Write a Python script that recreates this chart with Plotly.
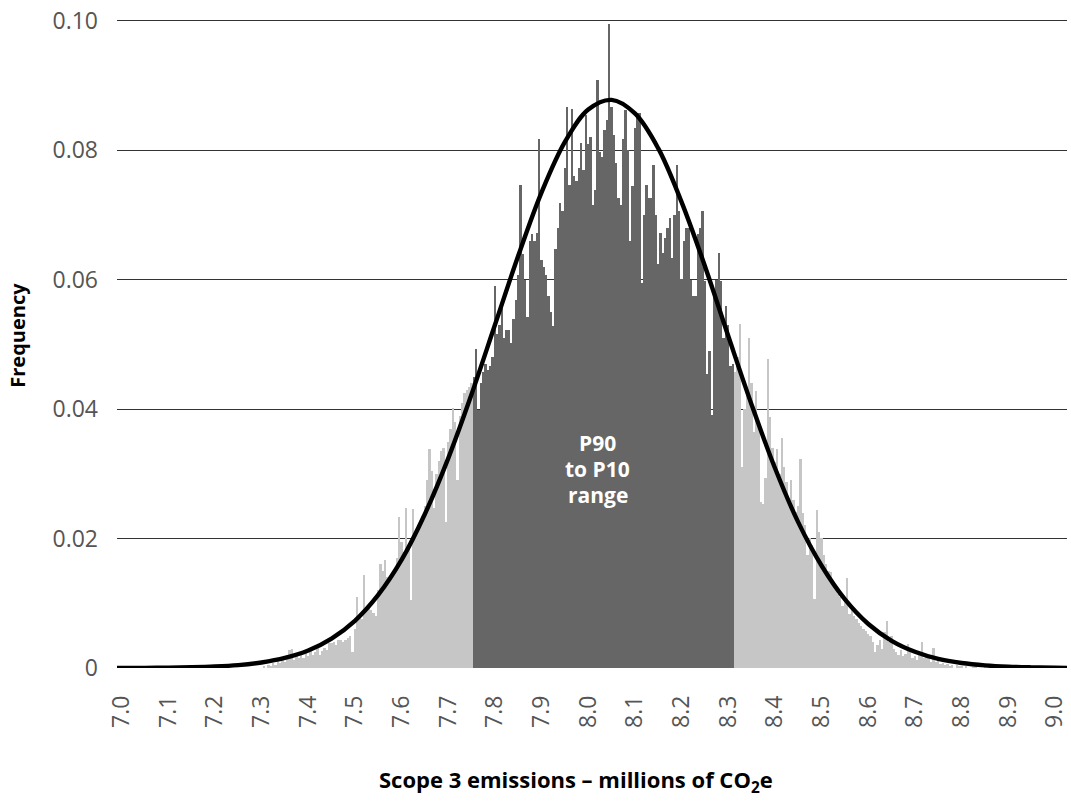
import plotly.graph_objects as go

# ---------------- data ----------------
bin_start = 7.300          # centre of first histogram bin
bin_width = 0.005          # bin width (millions of CO2e)
p90_value = 7.7525         # lower edge of P90-P10 range
p10_value = 8.3125         # upper edge of P90-P10 range

# frequency of each bin, in thousandths (x 0.001)
freq_milli = [
    # 7.300 - 7.445
    0, 0.3, 0, 0.5, 0.3, 0.8, 0.5, 1.2, 0.8, 1.5, 1.0, 2.0, 2.8, 3.0, 1.2,
    2.0, 1.5, 2.2, 1.6, 2.5, 1.8, 2.6, 2.0, 2.4, 3.3, 2.0, 2.6, 3.1, 2.8, 3.8,
    # 7.450 - 7.750
    3.8, 4.0, 3.5, 4.4, 4.4, 4.0, 4.4, 4.6, 5.0, 2.5,
    6.0, 11.0, 8.0, 7.5, 14.3, 9.5, 9.5, 9.0, 8.5, 8.0,
    12.0, 16.0, 15.0, 16.7, 14.0, 13.5, 14.0, 15.0, 17.0, 23.3,
    19.5, 18.0, 24.8, 19.0, 10.5, 24.6, 21.0, 21.5, 22.0, 23.5,
    25.0, 29.0, 33.9, 30.5, 24.8, 30.0, 32.0, 33.5, 34.0, 22.5,
    35.0, 37.0, 40.2, 38.0, 29.0, 39.0, 41.0, 42.5, 43.0, 43.5,
    44.0,
    # 7.755 - 8.310 (P90 to P10 range)
    45.0, 49.3, 39.8, 44.0, 45.7, 47.0, 46.0, 46.7, 48.0, 59.1,
    51.6, 53.0, 56.9, 51.0, 52.3, 52.3, 50.3, 54.0, 56.9, 60.8,
    74.6, 64.0, 60.0, 54.2, 66.0, 67.0, 66.0, 67.3, 81.8, 63.1,
    62.0, 60.8, 57.5, 55.0, 52.9, 64.7, 68.0, 71.9, 70.6, 77.2,
    86.7, 74.7, 86.4, 76.0, 75.2, 77.2, 81.1, 77.0, 85.5, 81.0,
    82.0, 71.6, 73.9, 90.9, 79.8, 79.0, 83.1, 84.7, 99.6, 86.7,
    82.4, 78.0, 72.6, 71.6, 81.8, 86.3, 80.0, 66.0, 74.5, 83.4,
    85.8, 85.7, 59.5, 70.0, 74.6, 72.6, 72.6, 77.8, 70.0, 62.4,
    67.3, 64.1, 66.4, 68.0, 69.6, 63.4, 70.0, 77.8, 70.6, 60.1,
    66.0, 68.0, 68.0, 60.0, 57.5, 57.5, 67.0, 68.0, 70.6, 59.8,
    45.4, 49.0, 39.1, 57.5, 60.0, 64.1, 59.8, 51.0, 55.9, 53.0,
    46.7, 47.0,
    # 8.315 - 8.800
    45.7, 48.0, 53.2, 31.0, 40.0, 42.4, 51.0, 44.0, 36.5, 42.8,
    38.0, 25.7, 25.4, 29.3, 47.7, 38.8, 34.0, 31.9, 33.9, 30.0,
    35.5, 31.0, 28.7, 26.0, 29.0, 26.0, 24.1, 25.0, 32.3, 24.0,
    22.1, 17.5, 20.1, 19.0, 10.6, 24.4, 21.0, 20.1, 17.5, 16.0,
    15.0, 14.9, 13.0, 12.3, 11.5, 11.0, 9.6, 10.5, 13.9, 8.3,
    9.0, 8.0, 7.5, 7.0, 6.5, 6.0, 5.7, 5.3, 5.0, 4.0,
    2.4, 3.5, 4.4, 3.0, 5.5, 7.3, 4.0, 5.0, 3.0, 2.4,
    2.0, 2.8, 1.8, 2.2, 3.7, 2.5, 1.5, 1.8, 1.2, 2.0,
    4.0, 1.5, 2.0, 1.8, 1.0, 3.1, 1.0, 1.1, 0.6, 0.8,
    0.4, 0.6, 0.3, 0.5, 0.0, 0.4, 0.2, 0.3,
    # 8.805 - 8.950
    0, 0.2, 0, 0, 0.1, 0.2, 0, 0, 0, 0.2, 0, 0, 0.1, 0, 0,
    0, 0.1, 0, 0, 0, 0, 0, 0.1, 0, 0, 0, 0, 0, 0, 0.3,
]

# fitted curve, read at 0.05 steps
curve_x = [6.98, 7.00, 7.05, 7.10, 7.15, 7.20, 7.25, 7.30, 7.35, 7.40, 7.45,
           7.50, 7.55, 7.60, 7.65, 7.70, 7.75, 7.80, 7.85, 7.90, 7.95,
           8.00, 8.05, 8.10, 8.15, 8.20, 8.25, 8.30, 8.35, 8.40, 8.45,
           8.50, 8.55, 8.60, 8.65, 8.70, 8.75, 8.80, 8.85, 8.90, 8.95, 9.00, 9.03]
curve_y = [0.00001, 0.00001, 0.00002, 0.00005, 0.00011, 0.00023, 0.00045, 0.00085, 0.00155, 0.0027, 0.00455,
           0.0073, 0.0113, 0.0167, 0.0238, 0.0324, 0.0423, 0.0530, 0.0637, 0.0735, 0.0813,
           0.0863, 0.0878, 0.0857, 0.0803, 0.0720, 0.0621, 0.0513, 0.0407, 0.0309, 0.0225,
           0.0158, 0.0106, 0.0068, 0.0042, 0.0025, 0.0014, 0.00077, 0.0004, 0.0002, 0.0001, 0.00004, 0.00002]

x_tick_vals = [7.0, 7.1, 7.2, 7.3, 7.4, 7.5, 7.6, 7.7, 7.8, 7.9, 8.0,
               8.1, 8.2, 8.3, 8.4, 8.5, 8.6, 8.7, 8.8, 8.9, 9.0]
x_tick_text = ["7.0", "7.1", "7.2", "7.3", "7.4", "7.5", "7.6", "7.7", "7.8", "7.9", "8.0",
               "8.1", "8.2", "8.3", "8.4", "8.5", "8.6", "8.7", "8.8", "8.9", "9.0"]
y_tick_vals = [0, 0.02, 0.04, 0.06, 0.08, 0.10]
y_tick_text = ["0", "0.02", "0.04", "0.06", "0.08", "0.10"]

label_lines = ["P90", "to P10", "range"]
label_x = 8.02
label_y = [0.0347, 0.0307, 0.0267]

# ---------------- figure ----------------
bin_centres = [round(bin_start + i * bin_width, 4) for i in range(len(freq_milli))]
freq = [v / 1000.0 for v in freq_milli]
DARK = "#666666"
LIGHT = "#c6c6c6"
colors = [DARK if p90_value <= c <= p10_value else LIGHT for c in bin_centres]

fig = go.Figure()
fig.add_trace(go.Bar(
    x=bin_centres, y=freq, width=bin_width,
    marker=dict(color=colors, line=dict(width=0)),
    hoverinfo="x+y", showlegend=False,
))
fig.add_trace(go.Scatter(
    x=curve_x, y=curve_y, mode="lines",
    line=dict(color="#000000", width=4.4, shape="spline", smoothing=1.0),
    hoverinfo="skip", showlegend=False,
))

tick_font = dict(family="Open Sans", size=23, color="#555555")

annotations = [
    dict(text="<b>" + t + "</b>", x=label_x, y=ly, xref="x", yref="y",
         xanchor="center", yanchor="middle", showarrow=False,
         font=dict(family="Open Sans", size=21, color="white"))
    for t, ly in zip(label_lines, label_y)
]
annotations += [
    dict(text="<b>Frequency</b>", x=-0.1042, y=0.512,
         xref="paper", yref="paper", xanchor="center", yanchor="middle",
         showarrow=False, textangle=-90,
         font=dict(family="Open Sans", size=20, color="#000000")),
    dict(text="<b>Scope 3 emissions – millions of CO<sub>2</sub>e</b>",
         x=0.483, y=-0.174, xref="paper", yref="paper",
         xanchor="center", yanchor="middle", showarrow=False,
         font=dict(family="Open Sans", size=22, color="#000000")),
]

fig.update_layout(
    width=1071, height=801,
    margin=dict(l=117, r=4, t=19, b=133, autoexpand=False),
    paper_bgcolor="white", plot_bgcolor="white",
    bargap=0,
    xaxis=dict(
        range=[6.99036, 9.02571], automargin=False,
        tickvals=x_tick_vals, ticktext=x_tick_text,
        tickangle=-90, tickfont=tick_font,
        showgrid=False, zeroline=False, showline=False,
        ticks="", ticklabelstandoff=22, ticklabeloverflow="allow",
    ),
    yaxis=dict(
        range=[0, 0.1003], automargin=False,
        tickvals=y_tick_vals, ticktext=y_tick_text,
        tickfont=tick_font,
        showgrid=True, gridcolor="#333333", gridwidth=1,
        zeroline=False, showline=False,
        ticks="", ticklabelstandoff=18,
    ),
    annotations=annotations,
)

fig.write_html("out.html")
